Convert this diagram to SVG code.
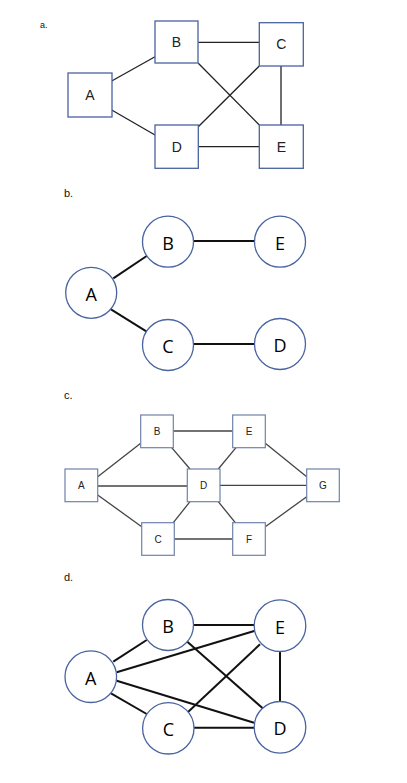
<svg xmlns="http://www.w3.org/2000/svg" width="407" height="783" viewBox="0 0 407 783">
<style>
.bg{fill:#fff}
.ba{fill:#fff;stroke:#4a62a0;stroke-width:1.3}
.cb{fill:#fff;stroke:#4a64a0;stroke-width:1.3}
.bc{fill:#fff;stroke:#6f82aa;stroke-width:1.2}
.la{font-family:"Liberation Sans",Arial,sans-serif;font-size:14px;fill:#222;text-anchor:middle;dominant-baseline:central}
.lb{font-family:"Open Sans","Liberation Sans",sans-serif;font-size:18px;fill:#000;text-anchor:middle;dominant-baseline:central}
.lc{font-family:"Liberation Sans",Arial,sans-serif;font-size:10px;fill:#222;text-anchor:middle;dominant-baseline:central}
.tag{font-family:"Liberation Sans",Arial,sans-serif;font-size:11px;fill:#111}
.ea{stroke:#222;stroke-width:1.3;fill:none}
.eb{stroke:#111;stroke-width:2;fill:none}
.ec{stroke:#444;stroke-width:1.3;fill:none}
</style>
<rect class="bg" width="407" height="783"/>
<text class="tag" x="40" y="28" style="font-size:9px">a.</text>
<text class="tag" x="64" y="197">b.</text>
<text class="tag" x="64" y="399">c.</text>
<text class="tag" x="64" y="581">d.</text>

<g id="connectors">
<!-- a -->
<line class="ea" x1="111.7" y1="81" x2="155" y2="56.7"/>
<line class="ea" x1="111.7" y1="110" x2="155" y2="135"/>
<line class="ea" x1="198.3" y1="42.3" x2="259.3" y2="42.3"/>
<line class="ea" x1="198.3" y1="63.3" x2="259.3" y2="125"/>
<line class="ea" x1="198.3" y1="126.7" x2="259.3" y2="66"/>
<line class="ea" x1="281" y1="66" x2="281" y2="125"/>
<line class="ea" x1="198.3" y1="146.7" x2="259.3" y2="146.7"/>
<!-- b -->
<line class="eb" x1="113.3" y1="278.3" x2="146.7" y2="256"/>
<line class="eb" x1="111" y1="309.3" x2="146.7" y2="331.7"/>
<line class="eb" x1="193.3" y1="241" x2="254" y2="241"/>
<line class="eb" x1="193.3" y1="344" x2="254" y2="344"/>
<!-- c -->
<line class="ec" x1="97.7" y1="476.7" x2="140.7" y2="443.3"/>
<line class="ec" x1="97.7" y1="486" x2="187.3" y2="486"/>
<line class="ec" x1="97.7" y1="495" x2="141.7" y2="526.7"/>
<line class="ec" x1="173.3" y1="431" x2="232.7" y2="431"/>
<line class="ec" x1="171.7" y1="447.7" x2="190" y2="469"/>
<line class="ec" x1="236" y1="447.7" x2="218.3" y2="469"/>
<line class="ec" x1="265.3" y1="443.3" x2="306.7" y2="476.7"/>
<line class="ec" x1="220" y1="485.3" x2="306.7" y2="485.3"/>
<line class="ec" x1="190" y1="501.7" x2="172.7" y2="523.3"/>
<line class="ec" x1="218.3" y1="501.7" x2="235.3" y2="522.7"/>
<line class="ec" x1="174.3" y1="539" x2="232.7" y2="539"/>
<line class="ec" x1="265.3" y1="526.7" x2="306.7" y2="496.7"/>
<!-- d -->
<line class="eb" x1="113.3" y1="661.7" x2="146.7" y2="640"/>
<line class="eb" x1="116.7" y1="672.3" x2="255" y2="630.7"/>
<line class="eb" x1="116.7" y1="680.7" x2="254" y2="722.7"/>
<line class="eb" x1="111" y1="693.3" x2="146.7" y2="714"/>
<line class="eb" x1="193.3" y1="625" x2="254" y2="625"/>
<line class="eb" x1="187.3" y1="641.7" x2="262.7" y2="708.3"/>
<line class="eb" x1="186.7" y1="713.3" x2="260" y2="644.3"/>
<line class="eb" x1="280" y1="651.7" x2="280" y2="701.7"/>
<line class="eb" x1="194" y1="727.7" x2="254" y2="727.7"/>
</g>

<!-- panel a -->
<g id="a-A"><rect class="ba" x="68" y="73" width="44" height="44"/><text class="la" x="90" y="95">A</text></g>
<g id="a-B"><rect class="ba" x="155" y="21" width="43" height="42"/><text class="la" x="176.5" y="42">B</text></g>
<g id="a-C"><rect class="ba" x="259.3" y="22.7" width="44" height="43.3"/><text class="la" x="281.3" y="44.3">C</text></g>
<g id="a-D"><rect class="ba" x="155" y="125" width="43.3" height="43.3"/><text class="la" x="176.7" y="146.7">D</text></g>
<g id="a-E"><rect class="ba" x="259.3" y="125" width="44" height="43.3"/><text class="la" x="281.3" y="146.7">E</text></g>

<!-- panel b -->
<g id="b-A"><circle class="cb" cx="91.2" cy="292.8" r="25.5"/><text class="lb" x="91.2" y="293.5">A</text></g>
<g id="b-B"><circle class="cb" cx="168" cy="241.7" r="25.5"/><text class="lb" x="168" y="242.5">B</text></g>
<g id="b-E"><circle class="cb" cx="280" cy="241.7" r="25.5"/><text class="lb" x="280" y="242.5">E</text></g>
<g id="b-C"><circle class="cb" cx="168" cy="345" r="25.5"/><text class="lb" x="168" y="345.5">C</text></g>
<g id="b-D"><circle class="cb" cx="280" cy="344" r="25.5"/><text class="lb" x="280" y="344.5">D</text></g>

<!-- panel c -->
<g id="c-A"><rect class="bc" x="65" y="469" width="32.7" height="32.7"/><text class="lc" x="81.3" y="485.3">A</text></g>
<g id="c-B"><rect class="bc" x="140.7" y="415" width="32.6" height="32.7"/><text class="lc" x="157" y="431.3">B</text></g>
<g id="c-E"><rect class="bc" x="232.7" y="415" width="32.6" height="32.7"/><text class="lc" x="249" y="431.3">E</text></g>
<g id="c-D"><rect class="bc" x="187.3" y="469" width="32.7" height="32.7"/><text class="lc" x="203.7" y="485.3">D</text></g>
<g id="c-G"><rect class="bc" x="306.7" y="469" width="32.6" height="32.7"/><text class="lc" x="323" y="485.3">G</text></g>
<g id="c-C"><rect class="bc" x="141.7" y="522.7" width="32.6" height="32.6"/><text class="lc" x="158" y="539">C</text></g>
<g id="c-F"><rect class="bc" x="232.7" y="522.7" width="32.6" height="32.6"/><text class="lc" x="249" y="539">F</text></g>

<!-- panel d -->
<g id="d-A"><circle class="cb" cx="90.8" cy="676.7" r="25.8"/><text class="lb" x="90.8" y="677.5">A</text></g>
<g id="d-B"><circle class="cb" cx="168" cy="625" r="25.5"/><text class="lb" x="168" y="625.8">B</text></g>
<g id="d-E"><circle class="cb" cx="280" cy="625.7" r="25.8"/><text class="lb" x="280" y="626.5">E</text></g>
<g id="d-C"><circle class="cb" cx="168.3" cy="728.3" r="25.7"/><text class="lb" x="168.3" y="729">C</text></g>
<g id="d-D"><circle class="cb" cx="280" cy="727.3" r="25.8"/><text class="lb" x="280" y="728">D</text></g>
</svg>
